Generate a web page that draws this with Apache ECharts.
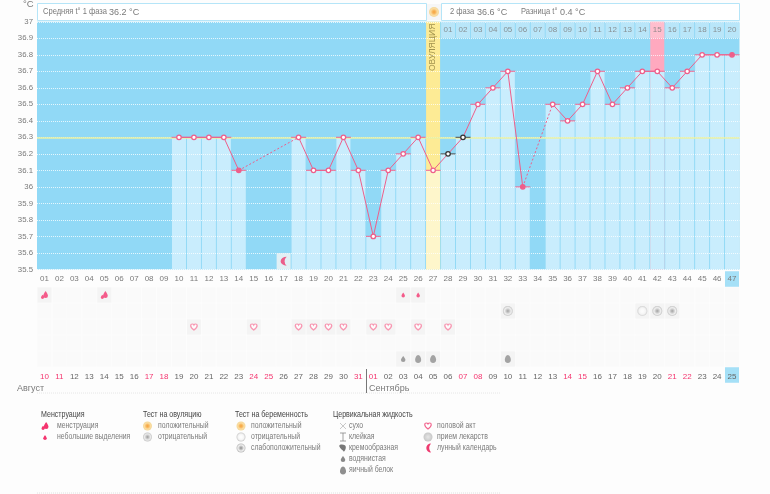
<!DOCTYPE html>
<html><head><meta charset="utf-8">
<style>html,body{margin:0;padding:0;background:#fdfdfd}#c{width:770px;height:494px}</style>
<script src="https://cdn.jsdelivr.net/npm/echarts@6/dist/echarts.min.js"></script>
</head><body><div id="c"></div>
<script>
// ---- data ----
const cycleDays = ['01','02','03','04','05','06','07','08','09','10','11','12','13','14','15','16','17','18','19','20','21','22','23','24','25','26','27','28','29','30','31','32','33','34','35','36','37','38','39','40','41','42','43','44','45','46','47'];
const calendarDays = ['10','11','12','13','14','15','16','17','18','19','20','21','22','23','24','25','26','27','28','29','30','31','01','02','03','04','05','06','07','08','09','10','11','12','13','14','15','16','17','18','19','20','21','22','23','24','25'];
const weekendIdx = [0,1,7,8,14,15,21,22,28,29,35,36,42,43];
const temps = [null,null,null,null,null,null,null,null,null,36.3,36.3,36.3,36.3,36.1,null,null,null,36.3,36.1,36.1,36.3,36.1,35.7,36.1,36.2,36.3,36.1,36.2,36.3,36.5,36.6,36.7,36.0,null,36.5,36.4,36.5,36.7,36.5,36.6,36.7,36.7,36.6,36.7,36.8,36.8,36.8];
const phase2Labels = ['01','02','03','04','05','06','07','08','09','10','11','12','13','14','15','16','17','18','19','20'];
const yTicks = {min:35.5,max:37,step:0.1};
const coverLine = 36.3;
const ovulationDay = 27, pinkDay = 42, excludedDays = [28,29], filledDays = [14,33,47];
const dashedGaps = [[14,18],[33,35]];
const menstruation=[1,5], spotting=[25,26], pregWeak=[32,42,43], pregNeg=[41];
const intercourse=[11,15,18,19,20,21,23,24,26,28], watery=[25], eggWhite=[26,27,32], moon=[17];
const legendCols = [
 {head:'Менструация',items:['менструация','небольшие выделения']},
 {head:'Тест на овуляцию',items:['положительный','отрицательный']},
 {head:'Тест на беременность',items:['положительный','отрицательный','слабоположительный']},
 {head:'Цервикальная жидкость',items:['сухо','клейкая','кремообразная','водянистая','яичный белок']},
 {head:'',items:['половой акт','прием лекарств','лунный календарь']}
];
// ---- styles ----
const FONT='"Liberation Sans",sans-serif', GREY='#7a7a7a', RED='#f4356f', PINK='#ee5f8b';
const DROP='M5 0C5 0 10 7 10 10A5 5 0 0 1 0 10C0 7 5 0 5 0Z';
const EGG='M5 0C8 0 10 5 10 8.5A5 5.5 0 0 1 0 8.5C0 5 2 0 5 0Z';
const MENS='M6 0C6 0 9 4 9 6.5A3 3 0 0 1 3 6.5C3 4 6 0 6 0ZM2 5C2 5 4 7.5 4 9A2 2 0 0 1 0 9C0 7.5 2 5 2 5Z';
const HEART='M5 9C1 6 0 4 0 2.5C0 1 1 0 2.5 0C3.5 0 4.5 .6 5 1.5C5.5 .6 6.5 0 7.5 0C9 0 10 1 10 2.5C10 4 9 6 5 9Z';
const MOON='M7 0A5.5 5.5 0 1 0 7 11A9 9 0 0 1 7 0Z';
const CROSS='M0 0L6 6M6 0L0 6', TBAR='M0 0H6M3 0V8M0 8H6', CREAM='M0 2C0 0 4 0 6 1C8 2 7 6 5 8C4 6 1 5 0 2Z';
const radial=(stops)=>({type:'radial',x:.5,y:.5,r:.5,colorStops:stops.map((c,i)=>({offset:i/(stops.length-1),color:c}))});
const weakFill=radial(['#8d8d8d','#bdbdbd','#efefef','#b9b9b9']);
const negFill=radial(['#ffffff','#fbfbfb','#f4f4f4','#c9c9c9']);
const sunFill=radial(['#f5a13c','#f8b85f','#fbdca0','#f3d89a']);
const greyFill=radial(['#9a9a9a','#c4c4c4','#ececec','#c4c4c4']);
const shapeBox={};
[['drop',DROP,10,15],['egg',EGG,10,14],['mens',MENS,9,11],['heart',HEART,10,9],['moon',MOON,7,11],['cross',CROSS,6,6],['tbar',TBAR,6,8],['cream',CREAM,7,8]].forEach(([n,d,w,h])=>{
  echarts.graphic.registerShape('ic_'+n,echarts.graphic.extendPath(d,{}));
  shapeBox[n]=[w,h];
});

const GL={left:37,width:702.5};
const idx=d=>d-1;
const barData=temps.map((t,i)=>t==null?null:{value:t,itemStyle:{color:i===idx(ovulationDay)?'#fef6cb':'#c9edfd'}});
const highlightData=temps.map((t,i)=>i===idx(ovulationDay)?{value:37,itemStyle:{color:'#fdeb95'}}:i===idx(pinkDay)?{value:37,itemStyle:{color:'#ffa9bf'}}:null);
const lineData=temps.map((t,i)=>{
  if(t==null)return null;
  const d=i+1, ex=excludedDays.includes(d);
  return {value:t,itemStyle:{color:filledDays.includes(d)?PINK:'#fff',borderColor:ex?'#333':PINK}};
});
const tickData=temps.map((t,i)=>t==null?null:{value:[i,t],itemStyle:{color:excludedDays.includes(i+1)?'#444':PINK}}).filter(Boolean);
const topTiles=phase2Labels.map((l,i)=>({value:[idx(28)+i,36.95],itemStyle:{color:idx(28)+i===idx(pinkDay)?'#ffc3d2':'#c3e9fa'}}));

const series=[];
series.push({type:'bar',xAxisIndex:0,yAxisIndex:0,data:highlightData,barWidth:14,barGap:'-100%',silent:true,z:2,animation:false});
series.push({type:'bar',xAxisIndex:0,yAxisIndex:0,data:barData,barWidth:14,barGap:'-100%',silent:true,z:2,animation:false});
series.push({type:'scatter',xAxisIndex:0,yAxisIndex:0,data:tickData,symbol:'rect',symbolSize:[15,1.2],z:5,silent:true,animation:false,
  markLine:{silent:true,symbol:'none',animation:false,label:{show:false},lineStyle:{color:'#e9f0a4',type:'solid',width:1.5},data:[{yAxis:coverLine}],z:4}});
series.push({type:'scatter',xAxisIndex:0,yAxisIndex:0,data:topTiles,symbol:'rect',symbolSize:[14,16],z:4,silent:true,animation:false,
  label:{show:true,position:'inside',color:GREY,fontSize:8,fontFamily:FONT,formatter:p=>phase2Labels[p.dataIndex]}});
series.push({type:'scatter',xAxisIndex:0,yAxisIndex:0,data:[[idx(ovulationDay),36.845]],symbolSize:1,itemStyle:{color:'transparent'},z:5,silent:true,animation:false,
  label:{show:true,position:'inside',rotate:90,formatter:'ОВУЛЯЦИЯ',color:'#8b7d3c',fontSize:8.5,fontFamily:FONT}});
series.push({type:'line',xAxisIndex:0,yAxisIndex:0,data:lineData,connectNulls:false,symbol:'circle',symbolSize:4.5,showSymbol:true,showAllSymbol:true,
  lineStyle:{color:PINK,width:1},itemStyle:{borderWidth:1.3},z:7,silent:true,animation:false});
dashedGaps.forEach(g=>{
  const d=temps.map((t,i)=>(i===idx(g[0])||i===idx(g[1]))?t:null);
  series.push({type:'line',xAxisIndex:0,yAxisIndex:0,data:d,connectNulls:true,symbol:'none',lineStyle:{color:PINK,width:1,type:[2,2]},z:6,silent:true,animation:false});
});
series.push({type:'scatter',xAxisIndex:0,yAxisIndex:0,data:moon.map(d=>[idx(d),35.55]),symbol:'rect',symbolSize:[14,16],itemStyle:{color:'#f5f5f5'},z:4,silent:true,animation:false});
series.push({type:'scatter',xAxisIndex:0,yAxisIndex:0,data:moon.map(d=>[idx(d),35.55]),symbol:'path://'+MOON,symbolSize:[6,9],itemStyle:{color:'#ee3a6f'},z:5,silent:true,animation:false});
const cells=[];for(let r=0;r<5;r++)for(let i=0;i<47;i++)cells.push([i,r]);
series.push({type:'scatter',xAxisIndex:1,yAxisIndex:1,data:cells,symbol:'rect',symbolSize:[14,15],itemStyle:{color:'#f9f9f9'},z:1,silent:true,animation:false});
// highlighted "today" tiles behind the two axis labels of the last column (rows just outside the symbol grid)
series.push({type:'scatter',xAxisIndex:1,yAxisIndex:1,clip:false,data:[[46,-1],[46,5]],symbol:'rect',symbolSize:[14,15.5],itemStyle:{color:'#8fd8f5'},z:0,silent:true,animation:false});
function rowIcons(days,row,symbol,size,style){
  series.push({type:'scatter',xAxisIndex:1,yAxisIndex:1,data:days.map(d=>[idx(d),row]),symbol:'rect',symbolSize:[14,15],itemStyle:{color:'#f2f2f2'},z:2,silent:true,animation:false});
  series.push({type:'scatter',xAxisIndex:1,yAxisIndex:1,data:days.map(d=>[idx(d),row]),symbol,symbolSize:size,itemStyle:style,z:3,silent:true,animation:false});
}
rowIcons(menstruation,0,'path://'+MENS,[7,8],{color:RED});
rowIcons(spotting,0,'path://'+DROP,[3.5,5],{color:RED});
rowIcons(pregWeak,1,'circle',10,{color:weakFill});
rowIcons(pregNeg,1,'circle',10,{color:negFill});
rowIcons(intercourse,2,'path://'+HEART,[6.5,6],{color:'#fff',borderColor:'#f77fa0',borderWidth:1.3});
rowIcons(watery,4,'path://'+DROP,[4.5,6],{color:'#888'});
rowIcons(eggWhite,4,'path://'+EGG,[6,8],{color:'#8f8f8f'});

// ---- page furniture ----
const g=[];
const txt=(x,y,t,o={},sx)=>g.push({type:'text',silent:true,z:10,x,y,scaleX:sx||1,style:Object.assign({text:t,fill:GREY,fontSize:8,fontFamily:FONT,verticalAlign:'middle'},o)});
const rect=(x,y,w,h,fill,stroke)=>g.push({type:'rect',silent:true,z:9,shape:{x,y,width:w,height:h},style:{fill,stroke:stroke||null,lineWidth:1}});
rect(37.5,3.5,389,17,'#fff','#b5e5f8');
rect(441.5,3.5,298,17,'#fff','#b5e5f8');
rect(427,4,14,16,'#f6f6f6');
g.push({type:'circle',silent:true,z:10,shape:{cx:434,cy:12,r:5},style:{fill:sunFill}});
txt(43,12,'Средняя t° 1 фаза',{fontSize:8.4},.9);txt(109,12,'36.2 °C',{fontSize:9.5},.95);
txt(450,12,'2 фаза',{fontSize:8.4},.9);txt(477,12,'36.6 °C',{fontSize:9.5},.95);
txt(521,12,'Разница t°',{fontSize:8.4},.9);txt(560,12,'0.4 °C',{fontSize:9.5},.95);
txt(23,4,'°C',{fontSize:9.5});
txt(17,389,'Август',{fontSize:9});txt(369,389,'Сентябрь',{fontSize:9});
g.push({type:'line',silent:true,z:9,shape:{x1:366.5,y1:369,x2:366.5,y2:393},style:{stroke:'#777',lineWidth:1}});
g.push({type:'line',silent:true,z:9,shape:{x1:37,y1:393,x2:500,y2:393},style:{stroke:'#e6e6e6',lineWidth:1,lineDash:[1,1]}});
g.push({type:'line',silent:true,z:9,shape:{x1:37,y1:493,x2:500,y2:493},style:{stroke:'#e0e0e0',lineWidth:1,lineDash:[1,1]}});
const heads=[41,143,235,333];
legendCols.forEach((c,i)=>{if(c.head)txt(heads[i],415,c.head,{fill:'#444',fontSize:8.5},.83);});
const ly=[426,437,448,459,470], textX=[57,158,251,349,437];
legendCols.forEach((c,i)=>c.items.forEach((t,j)=>txt(textX[i],ly[j],t,{fontSize:8.5},.81)));
const icon=(n,cx,cy,w,h,fill,stroke,lw)=>{const b=shapeBox[n];g.push({type:'ic_'+n,silent:true,z:10,x:cx-w/2,y:cy-h/2,scaleX:w/b[0],scaleY:h/b[1],style:{fill:fill||null,stroke:stroke||null,lineWidth:lw||1}});};
const circ=(cx,cy,r,fill)=>g.push({type:'circle',silent:true,z:10,shape:{cx,cy,r},style:{fill}});
icon('mens',45,426,7,8,RED);icon('drop',45,437.5,3.5,5,RED);
circ(147.5,426,4.5,sunFill);circ(147.5,437,4.5,greyFill);
circ(241,426,4.5,sunFill);circ(241,437,4.5,negFill);circ(241,448,4.5,weakFill);
icon('cross',343,426,6,6,null,'#bbb',.8);
icon('tbar',343,437,6,8,null,'#888',.8);
icon('cream',342.5,448,6.5,7.5,'#777');
icon('drop',343,459,4.5,6,'#888');icon('egg',343,470.5,6,8,'#8f8f8f');
icon('heart',428,426,6.5,6,'#fff','#f2668f',1.8);
circ(428,437,4.5,radial(['#e6e6e6','#dcdcdc','#d2d2d2','#c6c6c6']));
icon('moon',428,448,6,9,'#ee3a6f');

const chart=echarts.init(document.getElementById('c'),null,{renderer:'canvas'});
chart.setOption({
  animation:false,backgroundColor:'#fdfdfd',
  grid:[
    {left:GL.left,width:GL.width,top:21.8,height:247.6,show:true,backgroundColor:'#91d9f6',borderWidth:0},
    {left:GL.left,width:GL.width,top:287,height:80,borderWidth:0}
  ],
  xAxis:[
    {gridIndex:0,type:'category',data:cycleDays,z:3,axisLine:{show:false},axisTick:{show:false},splitLine:{show:false},
     axisLabel:{interval:0,color:GREY,fontSize:8,fontFamily:FONT,margin:5}},
    {gridIndex:1,type:'category',data:calendarDays,z:3,axisLine:{show:false},axisTick:{show:false},splitLine:{show:false},
     axisLabel:{interval:0,fontSize:8,fontFamily:FONT,margin:6,
       color:(v,i)=>weekendIdx.includes(i)?RED:'#666'}}
  ],
  yAxis:[
    {gridIndex:0,type:'value',min:yTicks.min,max:yTicks.max,interval:yTicks.step,z:3,
     axisLine:{show:false},axisTick:{show:false},
     axisLabel:{color:GREY,fontSize:7.8,fontFamily:FONT,margin:4},
     splitLine:{show:true,lineStyle:{color:'#ffffff',type:[1,1],width:1,opacity:.75}}},
    {gridIndex:1,type:'category',inverse:true,data:['0','1','2','3','4'],show:false}
  ],
  series,graphic:{elements:g}
});
</script></body></html>
